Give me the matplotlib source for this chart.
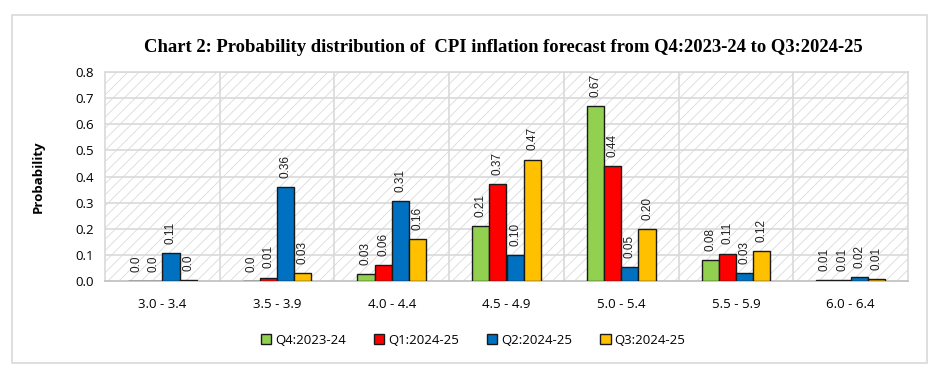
from matplotlib import use as setRenderingBackend  # isort:skip
setRenderingBackend('Agg')  # isort:skip

import numpy as np
from matplotlib import pyplot as plt
from matplotlib.patches import Rectangle

# data
categories = ['3.0 - 3.4', '3.5 - 3.9', '4.0 - 4.4', '4.5 - 4.9', '5.0 - 5.4', '5.5 - 5.9', '6.0 - 6.4']
series_names = ['Q4:2023-24', 'Q1:2024-25', 'Q2:2024-25', 'Q3:2024-25']
q4_2023_24 = [0.0, 0.0, 0.025, 0.21, 0.67, 0.08, 0.005]
q1_2024_25 = [0.0, 0.013, 0.06, 0.37, 0.44, 0.105, 0.003]
q2_2024_25 = [0.107, 0.36, 0.305, 0.10, 0.053, 0.03, 0.015]
q3_2024_25 = [0.003, 0.03, 0.16, 0.465, 0.20, 0.115, 0.008]

q4_labels = ['0.0', '0.0', '0.03', '0.21', '0.67', '0.08', '0.01']
q1_labels = ['0.0', '0.01', '0.06', '0.37', '0.44', '0.11', '0.01']
q2_labels = ['0.11', '0.36', '0.31', '0.10', '0.05', '0.03', '0.02']
q3_labels = ['0.0', '0.03', '0.16', '0.47', '0.20', '0.12', '0.01']

colors = ['#92D050', '#FF0000', '#0070C0', '#FFC000']

plt.rcParams['hatch.linewidth'] = 0.6
plt.rcParams['hatch.color'] = '#dadada'

fig = plt.figure(figsize=(9.5, 3.69), dpi=100)
ax = fig.add_axes([105 / 950, 1 - 281 / 369, 803 / 950, 209 / 369])

# outer chart frame
fig.patches.append(Rectangle((12 / 950, 1 - 363 / 369), 915 / 950, 348 / 369,
                             transform=fig.transFigure, fill=False,
                             edgecolor='#d9d9d9', linewidth=1.2))

# hatched plot background
ax.add_patch(Rectangle((0, 0), 1, 1, transform=ax.transAxes, facecolor='white',
                       hatch='///', edgecolor='#dadada', linewidth=0, zorder=0))

x = np.arange(len(categories))
width = 0.15
all_values = [q4_2023_24, q1_2024_25, q2_2024_25, q3_2024_25]
all_labels = [q4_labels, q1_labels, q2_labels, q3_labels]
for i, (vals, labs) in enumerate(zip(all_values, all_labels)):
    pos = x + (i - 1.5) * width
    ax.bar(pos, vals, width, color=colors[i], edgecolor='#1a1a1a', linewidth=1.0,
           label=series_names[i], zorder=3)
    for p, v, lab in zip(pos, vals, labs):
        ax.text(p, v + 0.035, lab, rotation=90, ha='center', va='bottom',
                fontsize=8.5, family='Liberation Sans', color='#202020', zorder=4)

ax.set_xlim(-0.5, len(categories) - 0.5)
ax.set_ylim(0, 0.8)
ax.set_yticks(np.arange(0, 0.81, 0.1))
ax.set_yticklabels(['{:.1f}'.format(t) for t in np.arange(0, 0.81, 0.1)],
                   family='Open Sans', fontsize=9.5)
ax.set_xticks(x)
ax.set_xticklabels(categories, family='Open Sans', fontsize=9.5)
ax.tick_params(length=0, pad=8)
ax.tick_params(axis='x', pad=12)

for t in np.arange(0.1, 0.81, 0.1):
    ax.axhline(t, color='#d9d9d9', linewidth=1.2, zorder=1)
for b in np.arange(0.5, len(categories) - 0.5, 1):
    ax.axvline(b, color='#d9d9d9', linewidth=1.2, zorder=1)
for side in ['top', 'right', 'left']:
    ax.spines[side].set_color('#d9d9d9')
    ax.spines[side].set_linewidth(1.2)
ax.spines['bottom'].set_color('#bfbfbf')
ax.spines['bottom'].set_linewidth(1.2)

ax.set_ylabel('Probability', family='Open Sans', fontweight='bold', fontsize=9.5, labelpad=22)
fig.text(503 / 950, 1 - 48 / 369,
         'Chart 2: Probability distribution of  CPI inflation forecast from Q4:2023-24 to Q3:2024-25',
         ha='center', va='center', family='Liberation Serif', fontweight='bold', fontsize=13.4)

ax.legend(loc='center', bbox_to_anchor=(473 / 950, 1 - 340 / 369), bbox_transform=fig.transFigure,
          ncol=4, frameon=False, handlelength=0.8, handleheight=0.8, handletextpad=0.3,
          columnspacing=2.1, prop={'family': 'Open Sans', 'size': 9.5})

fig.savefig('out.png', dpi=100)
